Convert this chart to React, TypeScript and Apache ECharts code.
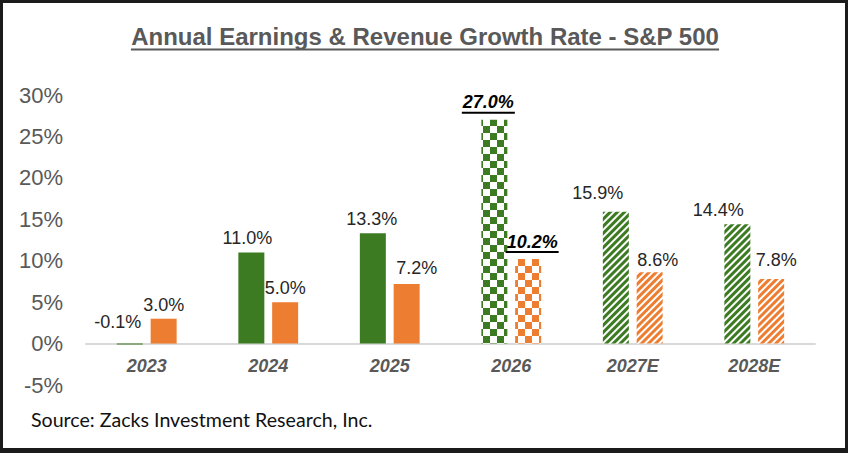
import React, { useEffect, useRef } from 'react';
import * as echarts from 'echarts';

// ---------- data ----------
const CATEGORIES = ['2023', '2024', '2025', '2026', '2027E', '2028E'];
const EARNINGS_GROWTH = [-0.1, 11.0, 13.3, 27.0, 15.9, 14.4];
const REVENUE_GROWTH = [3.0, 5.0, 7.2, 10.2, 8.6, 7.8];
const Y_MIN = -5;
const Y_MAX = 30;
const Y_STEP = 5;
const TITLE = 'Annual Earnings & Revenue Growth Rate - S&P 500';
const SOURCE = 'Source: Zacks Investment Research, Inc.';

// ---------- styles ----------
const GREEN = '#3D7B23';
const ORANGE = '#ED7D31';
const FILL_KIND = ['solid', 'solid', 'solid', 'checker', 'stripe', 'stripe'];
const HIGHLIGHT_INDEX = 3;
const EARN_LABEL_SHIFT = [[-12, -8], [-4, 0], [-1, 0], [-6, 0], [-18, -5], [-19, 0]];
const REV_LABEL_SHIFT = [[0, 0], [0, 0], [10, -2], [4, 0], [8, 2], [5, -5]];
const FONT = '"Liberation Sans", Arial, sans-serif';

function fillStyle(kind: string, color: string): any {
  if (kind === 'checker') {
    return {
      color: '#ffffff',
      decal: {
        symbol: 'rect',
        symbolSize: 1,
        dashArrayX: [[6.5, 6.5], [0, 6.5, 6.5, 0]],
        dashArrayY: [6.5, 0],
        rotation: 0,
        color,
      },
    };
  }
  if (kind === 'stripe') {
    return {
      color: '#ffffff',
      decal: {
        symbol: 'rect',
        symbolSize: 1,
        dashArrayX: [1, 0],
        dashArrayY: [2.1, 1.3],
        rotation: -Math.PI / 4,
        color,
      },
    };
  }
  return { color };
}

function buildItems(values: number[], color: string, shifts: number[][]) {
  return values.map((v, i) => {
    const item: any = {
      value: v,
      itemStyle: fillStyle(FILL_KIND[i], color),
      label: { offset: shifts[i] },
    };
    if (i === HIGHLIGHT_INDEX) {
      item.label = {
        offset: shifts[i],
        distance: 6,
        formatter: (p: any) => `{v|${Number(p.value).toFixed(1)}%}\n{u|}`,
        rich: {
          v: {
            fontSize: 18,
            lineHeight: 19,
            fontWeight: 'bold',
            fontStyle: 'italic',
            color: '#000',
            fontFamily: FONT,
          },
          u: { width: 53, height: 2, lineHeight: 2, backgroundColor: '#000' },
        },
      };
    }
    return item;
  });
}

export default function App() {
  const ref = useRef<HTMLDivElement>(null);

  useEffect(() => {
    document.body.style.margin = '0';
    if (!ref.current) return;
    const chart = echarts.init(ref.current, undefined, { renderer: 'svg' });

    const titleFont = `bold 24px ${FONT}`;
    let titleW = 590;
    try {
      const ctx = document.createElement('canvas').getContext('2d');
      if (ctx) {
        ctx.font = titleFont;
        titleW = ctx.measureText(TITLE).width;
      }
    } catch (e) {}
    const cx = 425;

    const commonLabel = {
      show: true,
      position: 'top',
      distance: 5,
      fontSize: 18,
      color: '#262626',
      fontFamily: FONT,
      formatter: (p: any) => `${Number(p.value).toFixed(1)}%`,
    };

    chart.setOption({
      animation: false,
      backgroundColor: '#ffffff',
      textStyle: { fontFamily: FONT },
      grid: { left: 86, right: 35, top: 95, bottom: 68 },
      xAxis: {
        type: 'category',
        data: CATEGORIES,
        axisLine: { onZero: true, lineStyle: { color: '#D9D9D9', width: 2 } },
        axisTick: { show: false },
        axisLabel: {
          fontSize: 18,
          fontWeight: 'bold',
          fontStyle: 'italic',
          color: '#595959',
          margin: -28,
          fontFamily: FONT,
        },
      },
      yAxis: {
        type: 'value',
        min: Y_MIN,
        max: Y_MAX,
        interval: Y_STEP,
        axisLine: { show: false },
        axisTick: { show: false },
        splitLine: { show: false },
        axisLabel: {
          formatter: '{value}%',
          fontSize: 22,
          color: '#595959',
          margin: 23,
          fontFamily: FONT,
        },
      },
      series: [
        {
          name: 'Earnings',
          type: 'bar',
          barWidth: 26,
          barGap: '30%',
          label: commonLabel,
          data: buildItems(EARNINGS_GROWTH, GREEN, EARN_LABEL_SHIFT),
        },
        {
          name: 'Revenue',
          type: 'bar',
          barWidth: 26,
          barGap: '30%',
          label: commonLabel,
          data: buildItems(REVENUE_GROWTH, ORANGE, REV_LABEL_SHIFT),
        },
      ],
      graphic: [
        {
          type: 'text',
          x: cx,
          y: 36,
          style: {
            text: TITLE,
            font: titleFont,
            fill: '#595959',
            align: 'center',
            verticalAlign: 'middle',
          },
        },
        {
          type: 'line',
          shape: { x1: cx - titleW / 2, y1: 49.5, x2: cx + titleW / 2, y2: 49.5 },
          style: { stroke: '#595959', lineWidth: 2 },
        },
        {
          type: 'text',
          x: 31,
          y: 419.5,
          style: {
            text: SOURCE,
            font: '19.6px Lato, "Open Sans", sans-serif',
            fill: '#111111',
            align: 'left',
            verticalAlign: 'middle',
          },
        },
      ],
    });

    return () => chart.dispose();
  }, []);

  return (
    <div style={{ position: 'relative', width: 850, height: 453, background: '#fff', overflow: 'hidden' }}>
      <div ref={ref} style={{ position: 'absolute', left: 0, top: 0, width: 850, height: 453 }} />
      <div
        style={{
          position: 'absolute',
          left: 0,
          top: 0,
          width: 848,
          height: 453,
          boxSizing: 'border-box',
          borderStyle: 'solid',
          borderColor: '#1b1b1b',
          borderWidth: '3px 3px 5px 3px',
          pointerEvents: 'none',
        }}
      />
    </div>
  );
}
